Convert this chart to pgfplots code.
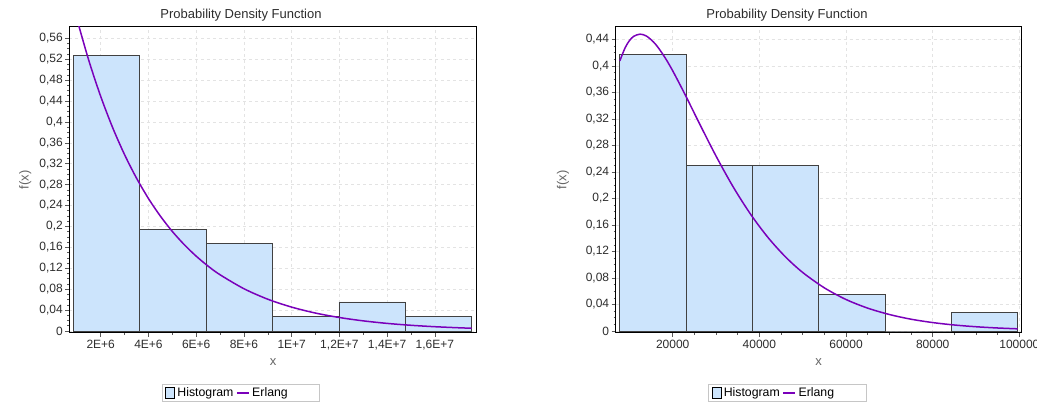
\documentclass[border=0pt]{standalone}
\usepackage{pgfplots}
\pgfplotsset{compat=1.18}
\usepackage{fontspec}
\setmainfont{Liberation Sans}
\definecolor{histfill}{RGB}{204,228,252}
\definecolor{histedge}{RGB}{65,65,65}
\definecolor{erlang}{RGB}{122,0,186}
\definecolor{txt}{RGB}{45,45,45}
\pgfplotsset{
  pdfstyle/.style={
    scale only axis,
    height=306pt,
    axis background/.style={fill=white},
    axis line style={line width=1pt, black},
    tick pos=left,
    tick align=outside,
    major tick length=4pt,
    minor tick length=2pt,
    tick style={gray!70!black, line width=0.6pt},
    grid=major,
    major grid style={dashed, gray!22, line width=0.6pt},
    ticklabel style={font=\fontsize{12}{14}\selectfont, text=txt},
    yticklabel style={xshift=1pt},
    /pgf/number format/assume math mode=true,
    /pgf/number format/use comma,
    /pgf/number format/fixed,
    /pgf/number format/precision=2,
    title={Probability Density Function},
    title style={font=\fontsize{13}{15}\selectfont, text=txt, anchor=base, yshift=2pt},
    xlabel={x},
    ylabel={f(x)},
    xlabel style={at={(axis description cs:0.5,-0.095)}, anchor=center, font=\fontsize{13}{15}\selectfont, text=gray!80!black},
    ylabel style={anchor=center, font=\fontsize{13}{15}\selectfont, text=gray!80!black},
    legend style={anchor=center, legend columns=-1, draw=gray!45, line width=0.8pt,
      font=\fontsize{12.3}{14}\selectfont, inner xsep=3pt, inner ysep=1.5pt,
      nodes={inner xsep=2.5pt, inner ysep=1.5pt},
      /tikz/every even column/.append style={column sep=0pt}},
    legend cell align=left,
  },
  histlegend/.style={legend image code/.code={\draw[fill=histfill,draw=black,line width=0.6pt] (0pt,-5.5pt) rectangle (9pt,5.5pt);}},
  erlanglegend/.style={legend image code/.code={\draw[erlang,line width=1.8pt] (0pt,0pt) -- (12pt,0pt);}},
}
\begin{document}
\begin{tikzpicture}[x=1pt,y=1pt]
\path[use as bounding box, fill=white] (0,0) rectangle (1037,406);
% ---------------- left chart ----------------
\begin{axis}[pdfstyle,
  at={(69.3pt,73pt)}, anchor=south west,
  width=407.4pt,
  xmin=0.685, xmax=17.75,
  ymin=-0.0038, ymax=0.5816,
  xtick={2,4,6,8,10,12,14,16},
  xticklabels={2E+6,4E+6,6E+6,8E+6,1E+7,{1,2E+7},{1,4E+7},{1,6E+7}},
  minor x tick num=1,
  ytick={0,0.04,0.08,0.12,0.16,0.2,0.24,0.28,0.32,0.36,0.4,0.44,0.48,0.52,0.56},
  minor y tick num=3,
  title style={at={(axis description cs:0.4215,1)}},
  ylabel style={at={(axis description cs:-0.108,0.5)}},
  legend style={at={(axis description cs:0.4215,-0.196)}},
]
\addplot[ybar interval, fill=histfill, draw=histedge, line width=0.8pt, histlegend]
  coordinates {(0.85,0.5278) (3.632,0.1944) (6.414,0.1667) (9.196,0.0278) (11.978,0.0556) (14.76,0.0278) (17.542,0.0278)};
\addlegendentry{Histogram}
\addplot[erlang, line width=1.5pt, smooth, erlanglegend] coordinates {
(0.85,0.6235) (1,0.5975) (1.5,0.5179) (2,0.4489) (2.5,0.3892) (3,0.3374) (3.5,0.2925)
(4,0.2535) (4.5,0.2198) (5,0.1905) (5.5,0.1652) (6,0.1432) (6.5,0.1241) (7,0.1076)
(8,0.0809) (9,0.0608) (10,0.0457) (11,0.0343) (12,0.0258) (13,0.0194) (14,0.01456)
(15,0.01094) (16,0.00822) (17,0.00618) (17.54,0.0053)};
\addlegendentry{\makebox[62pt][l]{Erlang}}
\end{axis}
% ---------------- right chart ----------------
\begin{axis}[pdfstyle,
  at={(615.7pt,73pt)}, anchor=south west,
  width=406pt,
  xmin=6846, xmax=100538,
  ymin=-0.003, ymax=0.4586,
  scaled x ticks=false,
  xtick={20000,40000,60000,80000,100000},
  xticklabel style={/pgf/number format/1000 sep={}, /pgf/number format/precision=0},
  minor x tick num=3,
  ytick={0,0.04,0.08,0.12,0.16,0.2,0.24,0.28,0.32,0.36,0.4,0.44},
  minor y tick num=3,
  title style={at={(axis description cs:0.422,1)}},
  ylabel style={at={(axis description cs:-0.13,0.5)}},
  legend style={at={(axis description cs:0.4229,-0.196)}},
]
\addplot[ybar interval, fill=histfill, draw=histedge, line width=0.8pt, histlegend]
  coordinates {(7800,0.4167) (23100,0.25) (38400,0.25) (53700,0.0556) (69000,0) (84300,0.0278) (99600,0.0278)};
\addlegendentry{Histogram}
\addplot[erlang, line width=1.5pt, smooth, erlanglegend] coordinates {
(7800,0.4075) (9000,0.4270) (10000,0.4379) (11000,0.4445) (12460,0.4478) (14000,0.4447)
(16000,0.4329) (18000,0.4147) (20000,0.3925) (23000,0.3548) (26000,0.3152) (30000,0.2639)
(34000,0.2169) (38000,0.1759) (42000,0.1410) (46000,0.1120) (50000,0.0883) (55000,0.0651)
(60000,0.0475) (65000,0.0345) (70000,0.0249) (75000,0.0178) (80000,0.01273) (85000,0.00905)
(90000,0.00642) (95000,0.00454) (99600,0.00329)};
\addlegendentry{\makebox[62pt][l]{Erlang}}
\end{axis}
\end{tikzpicture}
\end{document}
